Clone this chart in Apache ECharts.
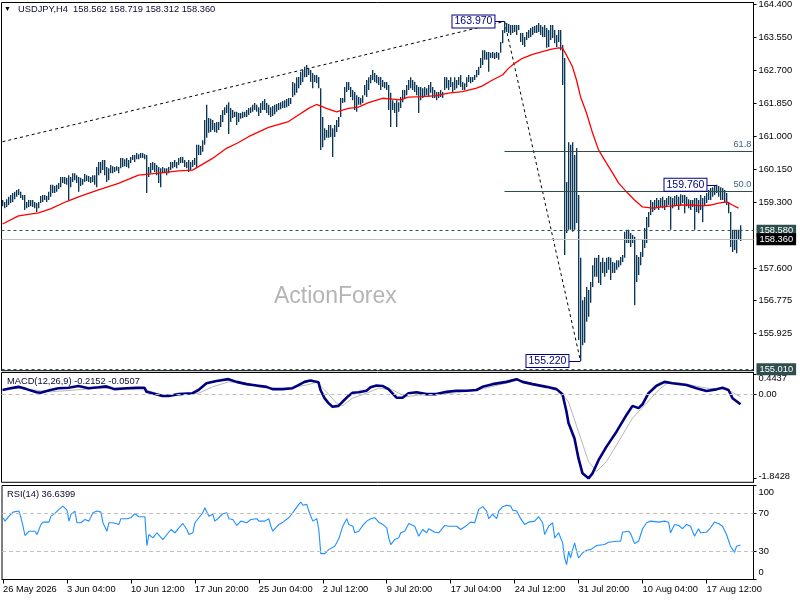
<!DOCTYPE html>
<html><head><meta charset="utf-8">
<script src="https://cdn.jsdelivr.net/npm/echarts@6/dist/echarts.min.js"></script>
<style>html,body{margin:0;padding:0;background:#fff}#c{width:800px;height:600px}</style>
</head><body><div id="c"></div>
<script>
const chartTitle = 'USDJPY,H4  158.562 158.719 158.312 158.360';
const macdTitle = 'MACD(12,26,9) -0.2152 -0.0507';
const rsiTitle = 'RSI(14) 36.6399';
const watermark = 'ActionForex';

const barHigh = [
159.37,159.32,159.39,159.45,159.50,159.55,159.58,159.63,159.65,159.58,
159.50,159.50,159.32,159.37,159.37,159.37,159.32,159.29,159.32,159.47,
159.50,159.50,159.47,159.58,159.76,159.76,159.73,159.76,159.81,159.96,
159.96,159.96,159.94,160.01,159.96,160.06,160.06,160.01,159.96,159.94,
159.91,160.04,160.01,159.99,159.96,160.01,160.01,160.22,160.35,160.35,
160.40,160.40,160.22,160.19,160.27,160.24,160.22,160.24,160.22,160.45,
160.45,160.42,160.45,160.40,160.48,160.53,160.53,160.58,160.55,160.58,
160.58,160.55,160.53,160.22,160.32,160.35,160.32,160.27,160.22,160.19,
160.22,160.19,160.19,160.22,160.35,160.35,160.40,160.35,160.45,160.48,
160.48,160.40,160.35,160.40,160.35,160.40,160.45,160.79,160.79,160.76,
160.91,161.43,161.82,161.48,161.46,161.43,161.35,161.38,161.38,161.56,
161.69,161.76,161.82,161.89,161.74,161.69,161.64,161.64,161.61,161.61,
161.64,161.64,161.69,161.74,161.76,161.82,161.87,161.82,161.76,161.87,
161.92,161.97,161.87,161.82,161.76,161.79,161.82,161.84,161.87,161.89,
161.92,161.94,161.97,162.00,162.00,162.41,162.38,162.53,162.54,162.67,
162.72,162.80,162.85,162.77,162.72,162.64,162.59,162.59,162.54,162.25,
161.51,161.22,161.17,161.30,161.30,161.22,161.30,161.43,161.51,162.00,
162.00,162.28,162.41,162.41,162.28,162.20,162.15,162.07,162.02,162.00,
162.07,162.33,162.46,162.53,162.59,162.72,162.64,162.59,162.54,162.54,
162.46,162.41,162.41,162.33,162.13,161.94,161.87,161.94,161.89,162.02,
162.20,162.20,162.33,162.46,162.53,162.46,162.41,162.33,162.28,162.28,
162.25,162.28,162.25,162.33,162.41,162.28,162.20,162.15,162.15,162.20,
162.15,162.54,162.53,162.46,162.53,162.41,162.53,162.46,162.54,162.59,
162.41,162.38,162.53,162.59,162.54,162.54,162.59,162.72,162.80,163.03,
163.23,163.23,163.18,163.18,163.16,163.18,163.16,163.18,163.16,163.44,
163.75,163.97,163.93,163.90,163.88,163.88,163.88,163.88,163.88,163.67,
163.67,163.57,163.70,163.75,163.80,163.83,163.85,163.88,163.93,163.88,
163.83,163.88,163.80,163.75,163.88,163.88,163.75,163.62,163.75,163.75,
163.36,163.03,159.83,160.86,160.79,160.86,160.53,160.71,159.50,157.88,
156.79,156.87,157.13,157.05,157.26,157.69,157.88,157.88,157.95,157.77,
157.88,157.77,157.88,157.90,157.88,157.77,157.75,157.82,157.82,157.90,
157.95,158.55,158.60,158.60,158.52,158.47,158.42,157.95,157.90,158.03,
158.34,158.65,158.93,159.06,159.37,159.32,159.37,159.42,159.37,159.42,
159.45,159.37,159.42,159.47,159.45,159.42,159.47,159.50,159.45,159.52,
159.50,159.50,159.45,159.39,159.37,159.37,159.42,159.42,159.37,159.50,
159.42,159.47,159.55,159.63,159.68,159.70,159.73,159.76,159.73,159.70,
159.68,159.63,159.55,159.32,159.06,158.60,158.60,158.60,158.60,158.719
];
const barLow = [
159.21,159.16,159.19,159.24,159.29,159.32,159.39,159.45,159.50,159.42,
159.37,159.11,159.16,159.19,159.21,159.19,159.16,159.06,159.16,159.29,
159.32,159.37,159.32,159.37,159.45,159.55,159.55,159.58,159.65,159.70,
159.81,159.78,159.76,159.37,159.70,159.83,159.88,159.81,159.58,159.73,
159.76,159.83,159.86,159.83,159.81,159.83,159.76,159.70,160.01,160.06,
160.14,160.01,159.83,159.88,160.06,160.06,160.09,160.12,160.06,160.19,
160.22,160.24,160.22,160.19,160.32,160.40,160.35,160.42,160.42,160.45,
160.45,160.42,159.55,159.96,160.06,160.14,160.09,160.01,159.81,159.70,
160.06,160.06,160.01,160.06,160.14,160.19,160.22,160.19,160.27,160.32,
160.32,160.22,160.19,160.09,160.14,160.22,160.27,160.22,160.53,160.53,
160.61,160.79,160.97,161.10,161.12,161.17,161.12,161.10,161.17,161.25,
161.38,161.56,161.61,161.07,161.38,161.48,161.51,161.30,161.38,161.46,
161.48,161.51,161.51,161.56,161.61,161.64,161.69,161.64,161.53,161.61,
161.69,161.69,161.61,161.56,161.51,161.53,161.58,161.64,161.69,161.71,
161.74,161.74,161.76,161.79,161.84,162.02,162.07,162.13,162.25,162.33,
162.41,162.53,162.54,162.59,162.41,162.25,162.41,162.38,162.25,160.66,
160.73,160.91,160.97,160.97,160.99,160.48,160.99,161.12,161.25,161.51,
161.87,161.89,162.15,162.20,162.02,161.94,161.69,161.64,161.82,161.82,
161.87,162.07,162.02,162.20,162.38,162.46,162.41,162.38,162.33,162.20,
162.28,162.25,162.20,161.69,161.25,161.69,161.61,161.25,161.64,161.74,
161.89,162.00,162.07,162.20,162.25,162.20,162.15,162.07,161.61,161.94,
162.00,162.02,162.07,162.02,162.13,162.00,162.00,161.94,162.00,162.02,
162.00,162.20,162.25,162.20,162.28,162.15,162.20,162.25,162.33,162.28,
162.20,162.20,162.28,162.41,162.38,162.41,162.46,162.53,162.59,162.77,
162.85,162.98,162.98,162.67,163.03,163.03,163.00,163.03,162.98,163.16,
163.41,163.67,163.70,163.67,163.62,163.67,163.70,163.62,163.75,163.44,
163.36,163.31,163.49,163.54,163.57,163.62,163.67,163.67,163.70,163.62,
163.57,163.57,163.29,163.31,163.49,163.54,163.41,163.31,163.44,163.23,
162.33,157.95,158.52,158.60,158.60,158.55,158.60,158.78,155.76,155.22,
155.63,155.69,156.23,156.36,156.72,157.13,157.39,157.39,157.23,157.18,
157.49,157.39,157.49,157.57,157.31,157.49,157.49,157.57,157.64,157.69,
157.77,157.88,158.26,158.26,158.16,158.26,156.66,157.26,157.44,157.69,
157.90,158.13,158.26,158.67,158.98,159.06,159.11,159.16,159.11,159.19,
159.16,159.11,159.21,159.24,158.60,159.16,159.21,159.24,159.11,159.24,
159.29,159.03,159.21,159.16,159.11,159.19,158.60,159.06,159.03,159.11,
158.80,159.24,159.29,159.37,159.37,159.45,159.50,159.55,159.45,159.37,
159.37,159.29,159.24,159.03,158.16,158.03,158.08,158.00,158.34,158.312
];
const maLine = [[0,158.75],[8,158.96],[18,159.04],[24,159.14],[32,159.33],[38,159.45],[48,159.63],[58,159.80],[68,160.01],[78,160.06],[88,160.12],[95,160.14],[98,160.23],[105,160.44],[112,160.70],[118,160.85],[123,161.00],[133,161.24],[143,161.39],[148,161.56],[153,161.73],[157,161.83],[162,161.73],[167,161.64],[173,161.73],[178,161.76],[183,161.88],[190,161.99],[195,161.97],[199,161.95],[203,162.02],[210,162.03],[217,162.06],[223,162.12],[230,162.16],[237,162.25],[240,162.31],[245,162.46],[250,162.59],[253,162.76],[256,162.89],[260,163.02],[265,163.12],[270,163.19],[274,163.25],[278,163.29],[280,163.28],[282,163.10],[285,162.80],[287,162.46],[289,162.03],[292,161.61],[295,161.10],[298,160.66],[302,160.32],[305,160.07],[308,159.81],[312,159.58],[316,159.37],[320,159.19],[325,159.16],[330,159.19],[335,159.22],[340,159.24],[345,159.24],[350,159.22],[354,159.24],[358,159.29],[362,159.32],[365,159.24],[368,159.16]];
const macdMain = [[0,0.10],[4,0.14],[8,0.17],[12,0.12],[17,0.05],[19,0.04],[24,0.10],[28,0.14],[33,0.15],[38,0.19],[43,0.14],[48,0.16],[52,0.18],[56,0.12],[62,0.14],[67,0.15],[71,0.15],[72,0.06],[75,0.03],[80,-0.03],[83,-0.03],[88,0.01],[95,0.03],[98,0.10],[102,0.25],[107,0.30],[113,0.34],[117,0.28],[122,0.23],[127,0.20],[132,0.17],[135,0.12],[140,0.12],[145,0.14],[148,0.21],[151,0.28],[154,0.31],[158,0.27],[159,0.10],[161,-0.08],[163,-0.19],[165,-0.27],[168,-0.25],[170,-0.16],[173,-0.03],[175,0.04],[178,0.05],[182,0.085],[184,0.16],[187,0.20],[190,0.19],[193,0.12],[197,-0.07],[200,-0.07],[203,0.03],[207,0.05],[212,0.01],[217,0.01],[222,0.06],[227,0.085],[232,0.085],[237,0.10],[240,0.17],[245,0.23],[252,0.28],[257,0.34],[260,0.28],[265,0.23],[272,0.17],[277,0.12],[280,0.005],[282,-0.38],[283,-0.63],[286,-0.97],[288,-1.41],[290,-1.74],[293,-1.85],[295,-1.74],[298,-1.45],[302,-1.15],[307,-0.82],[312,-0.45],[315,-0.25],[318,-0.30],[320,-0.215],[323,0.03],[327,0.195],[331,0.28],[335,0.25],[342,0.21],[347,0.14],[352,0.08],[357,0.115],[360,0.15],[363,0.10],[365,-0.08],[369,-0.2152]];
const macdSignal = [[0,0.10],[8,0.14],[24,0.06],[48,0.14],[72,0.10],[78,0.01],[85,-0.025],[98,0.03],[105,0.17],[113,0.28],[122,0.25],[128,0.17],[140,0.12],[152,0.21],[157,0.27],[162,0.06],[167,-0.19],[170,-0.245],[175,-0.08],[182,0.03],[188,0.14],[195,0.10],[202,-0.05],[208,-0.01],[218,0.005],[227,0.04],[237,0.095],[248,0.21],[258,0.32],[268,0.21],[278,0.10],[283,-0.16],[288,-0.82],[293,-1.48],[297,-1.70],[302,-1.48],[308,-1.04],[315,-0.52],[322,-0.19],[328,0.10],[333,0.27],[340,0.25],[352,0.14],[362,0.12],[369,-0.0507]];
const rsiLine = [[0,65.7],[1,62.1],[3,67.4],[5,71.7],[8,72.8],[9,65.7],[10,56.7],[11,46.8],[13,51.4],[14,53.2],[16,51.4],[17,47.9],[19,58.6],[20,61.0],[23,61.0],[24,67.4],[26,70.3],[28,74.6],[30,78.1],[32,73.8],[33,62.1],[34,69.3],[36,72.8],[37,60.4],[39,60.4],[41,63.9],[43,62.1],[44,62.1],[45,71.1],[47,72.8],[49,71.7],[50,60.4],[52,51.4],[53,60.4],[55,60.4],[58,58.6],[59,64.7],[62,64.7],[64,65.7],[66,70.0],[68,66.8],[71,66.8],[72,36.1],[73,47.9],[75,44.3],[77,49.7],[78,47.9],[80,42.5],[82,47.9],[84,53.2],[86,49.7],[88,55.0],[90,59.6],[92,53.2],[93,47.9],[95,49.7],[96,60.4],[98,65.7],[100,71.1],[101,76.4],[103,67.4],[105,69.3],[106,62.1],[108,65.7],[110,70.0],[112,71.1],[113,64.7],[115,63.9],[117,57.5],[119,62.1],[122,60.4],[124,63.9],[127,64.7],[128,62.1],[131,62.1],[133,64.7],[134,56.7],[135,51.4],[138,58.6],[140,61.0],[143,65.7],[145,71.1],[148,79.9],[149,82.4],[150,78.9],[152,79.9],[153,72.8],[155,62.1],[157,64.7],[158,53.2],[159,27.5],[161,27.5],[163,31.8],[164,31.1],[166,35.3],[168,43.3],[170,56.7],[172,64.7],[173,58.6],[175,56.7],[176,49.7],[178,51.4],[180,57.5],[182,62.1],[184,64.7],[186,65.7],[188,61.0],[190,58.6],[192,55.0],[193,44.3],[194,37.2],[196,42.5],[198,44.3],[199,49.7],[201,51.4],[203,59.6],[206,56.7],[208,46.0],[210,53.2],[212,49.7],[213,54.0],[216,50.3],[218,49.7],[221,57.5],[223,56.7],[227,56.7],[229,53.2],[232,57.5],[234,61.0],[236,60.4],[238,74.6],[240,77.5],[242,72.8],[243,64.7],[245,69.3],[247,64.7],[248,72.8],[250,77.5],[252,78.9],[254,78.1],[255,73.8],[257,72.8],[259,64.7],[261,58.6],[263,61.0],[266,62.1],[268,66.8],[270,60.4],[271,47.9],[273,56.7],[275,60.4],[276,44.3],[278,49.7],[279,51.4],[280,39.0],[281,22.9],[282,15.8],[283,30.0],[284,22.9],[285,31.8],[286,39.0],[287,30.0],[288,22.9],[290,28.3],[292,31.1],[294,31.8],[297,36.1],[298,38.2],[301,37.2],[303,39.6],[307,40.7],[309,40.7],[310,50.3],[313,51.4],[314,48.9],[316,38.2],[318,40.7],[320,54.0],[322,60.4],[324,62.1],[328,61.0],[331,62.1],[333,61.0],[334,49.7],[336,58.6],[338,57.5],[340,54.0],[342,58.6],[344,56.7],[346,46.0],[348,54.0],[349,49.7],[352,50.3],[354,55.0],[356,61.0],[358,59.6],[360,56.7],[362,47.9],[364,35.3],[366,28.9],[367,35.3],[369,36.64]];

const tickLabels = ['26 May 2026','3 Jun 04:00','10 Jun 12:00','17 Jun 20:00','25 Jun 04:00','2 Jul 12:00','9 Jul 20:00','17 Jul 04:00','24 Jul 12:00','31 Jul 20:00','10 Aug 04:00','17 Aug 12:00'];
const priceTicks = [164.4,163.55,162.7,161.85,161.0,160.15,159.3,157.6,156.775,155.925];
const macdTicks = [0.4437,0,-1.8428];
const rsiTicks = [100,70,30,0];
const rsiLevels = [70,30];

const trendLine = [[0,160.87],[251,163.97]];
const swingLine = [[251,163.97],[289,155.22]];
const fibLevels = [[160.628,'61.8'],[159.595,'50.0']];
const fibStart = 251;
const askLevel = 158.58, bidLevel = 158.36, lowLevel = 155.01;
const swingMarks = [['163.970',163.97,246,251],['155.220',155.22,283,289],['159.760',159.76,352,357]];

const SLOTS = 376, TICK_EVERY = 32;
const slots = Array.from({length: SLOTS}, (_, i) => String(i));
const FONT = 'Liberation Sans';
const BAR = '#0c3858', SLATE = '#2f4f4f', NAVY = '#000080';

const barRows = barHigh.map((h, i) => [i, barLow[i], h]);

const grids = [
  {left: 1.5, right: 46.5, top: 2.5, height: 368.2},
  {left: 1.5, right: 46.5, top: 372.5, height: 109.8},
  {left: 1.5, right: 46.5, top: 485.5, height: 94}
].map(g => Object.assign(g, {show: true, borderColor: '#000', borderWidth: 1, containLabel: false}));

const tickFn = (idx) => idx % TICK_EVERY === 0;
const xAxes = [0, 1, 2].map(g => ({
  type: 'category', gridIndex: g, data: slots, boundaryGap: true,
  show: g === 2,
  axisLine: {show: true, lineStyle: {color: '#000'}},
  axisTick: {show: true, alignWithLabel: true, interval: tickFn, length: 4, lineStyle: {color: '#000'}},
  axisLabel: {show: true, interval: tickFn, align: 'left', margin: 5, fontSize: 9.3, color: '#000', fontFamily: FONT,
    formatter: (v, idx) => tickLabels[idx / TICK_EVERY] || ''},
  splitLine: {show: false}
}));

const ySide = {position: 'right', axisLine: {show: true, lineStyle: {color: '#000'}}, splitLine: {show: false}};
const yAxes = [
  Object.assign({type: 'value', gridIndex: 0, min: 154.972, max: 164.457,
    axisTick: {show: true, length: 3, customValues: priceTicks, lineStyle: {color: '#000'}},
    axisLabel: {customValues: priceTicks, margin: 5, fontSize: 9.3, color: '#000', fontFamily: FONT, formatter: v => v.toFixed(3)}}, ySide),
  Object.assign({type: 'value', gridIndex: 1, min: -1.938, max: 0.487,
    axisTick: {show: true, length: 3, customValues: macdTicks, lineStyle: {color: '#000'}},
    axisLabel: {customValues: macdTicks, margin: 5, fontSize: 9.3, color: '#000', fontFamily: FONT,
      formatter: v => v > 0 ? '{t|' + v.toFixed(4) + '}' : (v < 0 ? '{b|' + v.toFixed(4) + '}' : '0.00'),
      rich: {t: {padding: [8, 0, 0, 0], fontSize: 9.3, fontFamily: FONT, color: '#000'}, b: {padding: [0, 0, 4, 0], fontSize: 9.3, fontFamily: FONT, color: '#000'}}}}, ySide),
  Object.assign({type: 'value', gridIndex: 2, min: 0, max: 100,
    axisTick: {show: true, length: 3, customValues: rsiTicks, lineStyle: {color: '#000'}},
    axisLabel: {customValues: rsiTicks, margin: 5, fontSize: 9.3, color: '#000', fontFamily: FONT,
      formatter: v => v === 100 ? '{t|100}' : (v === 0 ? '{b|0}' : String(v)),
      rich: {t: {padding: [13, 0, 0, 0], fontSize: 9.3, fontFamily: FONT, color: '#000'}, b: {padding: [0, 0, 14, 0], fontSize: 9.3, fontFamily: FONT, color: '#000'}}}}, ySide)
];

const axisBadge = (val, bg) => ({
  yAxis: val,
  label: {show: true, position: 'end', distance: 3, formatter: val.toFixed(3), color: '#fff', backgroundColor: bg,
    padding: [2, 3, 1, 3], fontSize: 9.3, fontFamily: FONT}
});

const levelLines = [
  Object.assign(axisBadge(askLevel, SLATE), {lineStyle: {color: SLATE, type: [3, 3], width: 1}}),
  Object.assign(axisBadge(bidLevel, '#000'), {lineStyle: {color: '#c0c0c0', type: 'solid', width: 1}}),
  Object.assign(axisBadge(lowLevel, SLATE), {lineStyle: {color: SLATE, type: [3, 3], width: 1}})
];
fibLevels.forEach(([v, name]) => {
  levelLines.push([
    {coord: [fibStart, v], lineStyle: {color: SLATE, type: 'solid', width: 1},
     label: {show: true, position: 'insideEndTop', distance: [1, 2], formatter: name, color: '#3f6580', fontSize: 9.3, fontFamily: FONT}},
    {coord: [SLOTS - 1, v]}
  ]);
});
swingMarks.forEach(([txt, v, boxAt, barAt]) => {
  levelLines.push([
    {coord: [boxAt, v], lineStyle: {color: NAVY, type: 'solid', width: 1}, label: {show: false}},
    {coord: [barAt, v]}
  ]);
});

const swingPoints = swingMarks.map(([txt, v, boxAt]) => ({
  coord: [boxAt, v], symbol: 'rect', symbolSize: 0.1, itemStyle: {color: 'rgba(0,0,0,0)'},
  label: {show: true, position: 'left', distance: 0, formatter: txt, color: NAVY, backgroundColor: '#fff',
    borderColor: NAVY, borderWidth: 1, padding: [1, 2, 0, 2], lineHeight: 11, fontSize: 10.5, fontFamily: FONT}
}));

const titleStyle = {fontSize: 9.3, fontWeight: 'normal', color: '#0a0a30', fontFamily: FONT};

const option = {
  animation: false,
  backgroundColor: '#fff',
  textStyle: {fontFamily: FONT},
  title: [
    {text: '▼', left: 4, top: 6, padding: 0, textStyle: {fontSize: 7, fontWeight: 'normal', color: '#000'}},
    {text: chartTitle, left: 18, top: 5, padding: 0, textStyle: titleStyle},
    {text: macdTitle, left: 7, top: 377, padding: 0, textStyle: titleStyle},
    {text: rsiTitle, left: 7, top: 490, padding: 0, textStyle: titleStyle}
  ],
  graphic: [{type: 'text', left: 274, top: 285, z: 0, silent: true,
    style: {text: watermark, fontSize: 23, fontFamily: FONT, fill: '#b4b4b4'}}],
  grid: grids,
  xAxis: xAxes,
  yAxis: yAxes,
  series: [
    {type: 'custom', name: 'USDJPY', xAxisIndex: 0, yAxisIndex: 0, data: barRows, z: 3,
      encode: {x: 0, y: [1, 2]},
      renderItem: (params, api) => {
        const i = api.value(0);
        const top = api.coord([i, api.value(2)]);
        const bot = api.coord([i, api.value(1)]);
        return {type: 'rect', shape: {x: top[0] - 0.5, y: top[1], width: 1.35, height: Math.max(1, bot[1] - top[1])},
          style: {fill: BAR}};
      }},
    {type: 'line', name: 'MA', xAxisIndex: 0, yAxisIndex: 0, data: maLine, showSymbol: false, z: 4,
      lineStyle: {color: '#ff0000', width: 1.3}},
    {type: 'line', name: 'trend', xAxisIndex: 0, yAxisIndex: 0, data: trendLine, showSymbol: false, z: 2,
      lineStyle: {color: '#000', width: 1, type: [3, 3]},
      markLine: {silent: true, symbol: ['none', 'none'], animation: false, data: levelLines},
      markPoint: {silent: true, animation: false, data: swingPoints}},
    {type: 'line', name: 'swing', xAxisIndex: 0, yAxisIndex: 0, data: swingLine, showSymbol: false, z: 2,
      lineStyle: {color: '#000', width: 1, type: [3, 3]}},
    {type: 'line', name: 'MACD', xAxisIndex: 1, yAxisIndex: 1, data: macdMain, showSymbol: false, z: 4,
      lineStyle: {color: NAVY, width: 2.6},
      markLine: {silent: true, symbol: ['none', 'none'], label: {show: false},
        data: [{yAxis: 0, lineStyle: {color: '#c0c0c0', type: [4, 3], width: 1}}]}},
    {type: 'line', name: 'Signal', xAxisIndex: 1, yAxisIndex: 1, data: macdSignal, showSymbol: false, z: 3,
      lineStyle: {color: '#b8b8b8', width: 1}},
    {type: 'line', name: 'RSI', xAxisIndex: 2, yAxisIndex: 2, data: rsiLine, showSymbol: false, z: 4,
      lineStyle: {color: '#1e90ff', width: 1.1},
      markLine: {silent: true, symbol: ['none', 'none'], label: {show: false},
        data: rsiLevels.map(v => ({yAxis: v, lineStyle: {color: '#c0c0c0', type: [4, 3], width: 1}}))}}
  ]
};

const chart = echarts.init(document.getElementById('c'), null, {renderer: 'canvas'});
chart.setOption(option);
</script></body></html>
